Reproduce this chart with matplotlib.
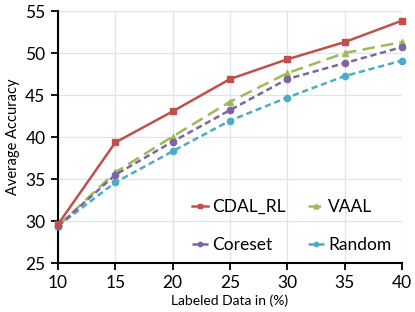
import matplotlib
matplotlib.use("Agg")
import matplotlib.pyplot as plt

# labeled data percentages
labeled = [10, 15, 20, 25, 30, 35, 40]

cdal_rl = [29.6, 39.35, 43.05, 46.9, 49.25, 51.3, 53.85]
vaal = [29.4, 35.8, 40.05, 44.2, 47.6, 50.0, 51.3]
coreset = [29.4, 35.5, 39.45, 43.2, 46.9, 48.8, 50.7]
random_sel = [29.4, 34.6, 38.3, 41.95, 44.7, 47.25, 49.1]

plt.rcParams['font.family'] = ['Lato', 'DejaVu Sans']

fig = plt.figure(figsize=(4.15, 3.12), dpi=100)
ax = fig.add_axes([58 / 415, 1 - 263 / 312, 344 / 415, 252 / 312])

l1, = ax.plot(labeled, cdal_rl, color='#C0504D', marker='s', markersize=5,
              linewidth=1.8, label='CDAL_RL', clip_on=False, zorder=5)
l2, = ax.plot(labeled, vaal, color='#9BBB59', marker='^', markersize=5,
              linewidth=1.8, linestyle=(0, (5, 2.5)), label='VAAL', clip_on=False, zorder=4)
l3, = ax.plot(labeled, coreset, color='#8064A2', marker='o', markersize=4.5,
              linewidth=1.8, linestyle=(0, (2.5, 1.5)), label='Coreset', clip_on=False, zorder=4)
l4, = ax.plot(labeled, random_sel, color='#4BACC6', marker='o', markersize=4.5,
              linewidth=1.8, linestyle=(0, (2.5, 1.5)), label='Random', clip_on=False, zorder=3)

ax.set_xlim(10, 40)
ax.set_ylim(25, 55)
ax.set_xticks(labeled)
ax.set_yticks(range(25, 56, 5))
ax.grid(True, color='#DCE4EF', linewidth=0.9)
ax.set_axisbelow(True)

for s in ['top', 'right']:
    ax.spines[s].set_visible(False)
for s in ['left', 'bottom']:
    ax.spines[s].set_linewidth(1.5)
    ax.spines[s].set_color('black')

ax.tick_params(axis='both', direction='out', length=5, width=1.3, labelsize=12.5, pad=4)
ax.set_ylabel('Average Accuracy', fontsize=10.5, labelpad=4)
ax.set_xlabel('Labeled Data in (%)', fontsize=10, labelpad=2)

# order so rows read CDAL_RL/VAAL then Coreset/Random
ax.legend([l1, l3, l2, l4], ['CDAL_RL', 'Coreset', 'VAAL', 'Random'],
          loc='lower right', ncol=2, frameon=False, fontsize=12.5,
          handlelength=0.9, handletextpad=0.25, columnspacing=1.3,
          labelspacing=1.25, borderaxespad=0.2, markerscale=0.7)

fig.savefig('out.png', dpi=100)
